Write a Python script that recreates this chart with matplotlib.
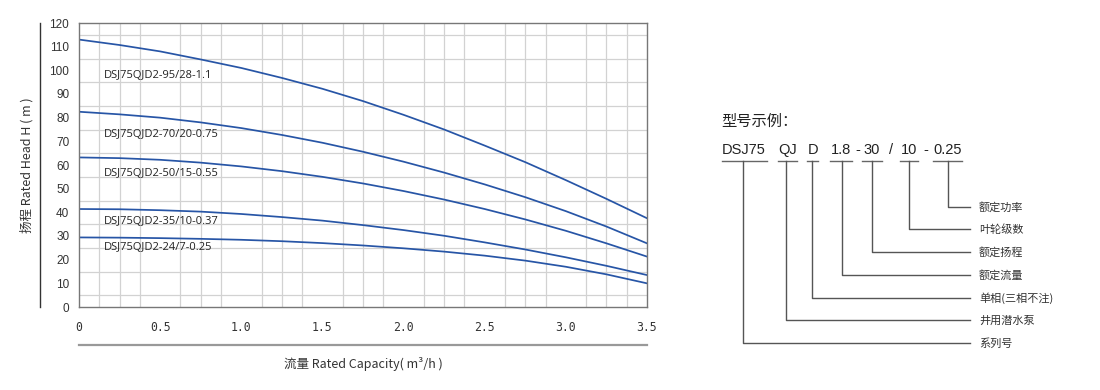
import matplotlib
matplotlib.use('Agg')
import matplotlib.pyplot as plt

# ---------------- data ----------------
flow = [0, 0.25, 0.5, 0.75, 1.0, 1.25, 1.5, 1.75, 2.0, 2.25, 2.5, 2.75, 3.0, 3.25, 3.5]
head_95_28 = [113.0, 110.7, 108.0, 104.6, 101.0, 96.8, 92.2, 87.0, 81.2, 75.0, 68.2, 61.2, 53.6, 45.7, 37.5]
head_70_20 = [82.5, 81.4, 80.0, 78.0, 75.6, 72.7, 69.4, 65.6, 61.4, 56.8, 51.8, 46.4, 40.5, 34.0, 26.9]
head_50_15 = [63.2, 62.9, 62.2, 61.0, 59.4, 57.4, 55.0, 52.2, 49.0, 45.4, 41.4, 37.0, 32.2, 26.9, 21.3]
head_35_10 = [41.4, 41.3, 40.9, 40.3, 39.3, 38.0, 36.5, 34.6, 32.5, 30.1, 27.3, 24.3, 21.0, 17.4, 13.5]
head_24_7 = [29.4, 29.3, 29.1, 28.8, 28.4, 27.8, 27.0, 26.0, 24.8, 23.4, 21.7, 19.6, 17.0, 13.8, 10.0]

model_names = ["DSJ75QJD2-95/28-1.1", "DSJ75QJD2-70/20-0.75", "DSJ75QJD2-50/15-0.55",
               "DSJ75QJD2-35/10-0.37", "DSJ75QJD2-24/7-0.25"]
model_heads = [head_95_28, head_70_20, head_50_15, head_35_10, head_24_7]

x_ticks = [0, 0.5, 1.0, 1.5, 2.0, 2.5, 3.0, 3.5]
x_tick_labels = ["0", "0.5", "1.0", "1.5", "2.0", "2.5", "3.0", "3.5"]
y_ticks = [0, 10, 20, 30, 40, 50, 60, 70, 80, 90, 100, 110, 120]

code_parts = ["DSJ75", "QJ", "D", "1.8", "-", "30", "/", "10", "-", "0.25"]
code_meanings = ["额定功率", "叶轮级数", "额定扬程", "额定流量", "单相(三相不注)", "井用潜水泵", "系列号"]

# ---------------- style / layout ----------------
CJK = ['Noto Sans CJK SC', 'DejaVu Sans']
BLUE = '#2755a6'
W, H = 1100, 390
fig = plt.figure(figsize=(11, 3.9), dpi=100)
fig.patch.set_facecolor('white')

L, R, T, B = 79, 647, 23, 307
ax = fig.add_axes([L / W, 1 - B / H, (R - L) / W, (B - T) / H])
ax.set_xlim(0, 3.5)
ax.set_ylim(0, 120)

# grid
ax.set_xticks([i * 0.125 for i in range(29)], minor=True)
ax.set_yticks([i * 5 for i in range(25)], minor=True)
ax.grid(which='minor', color='#d2d2d2', lw=0.9)
ax.set_axisbelow(True)

for y, name in zip(model_heads, model_names):
    ax.plot(flow, y, color=BLUE, lw=1.25, solid_joinstyle='round')

label_y = [98.0, 72.7, 56.2, 36.3, 25.1]
for name, ly in zip(model_names, label_y):
    ax.text(0.154, ly, name, fontsize=8.0, color='#222222', va='center', ha='left',
            family=['Open Sans', 'DejaVu Sans'])

ax.set_xticks(x_ticks)
ax.set_xticklabels(x_tick_labels, family='DejaVu Sans Mono', fontsize=8.3, color='#333333')
ax.set_yticks(y_ticks)
ax.set_yticklabels([str(v) for v in y_ticks], family='Liberation Sans', fontsize=8.5, color='#333333')
ax.tick_params(which='both', length=0)
ax.tick_params(axis='x', pad=10)
ax.tick_params(axis='y', pad=7)
for s in ax.spines.values():
    s.set_color('#777777')
    s.set_linewidth(1.0)

# overlay in pixel coordinates for decorations
ov = fig.add_axes([0, 0, 1, 1], facecolor='none')
ov.set_xlim(0, W)
ov.set_ylim(H, 0)
ov.axis('off')

ov.plot([40, 40], [23, 307], color='#333333', lw=1.0)
ov.plot([79, 647], [345, 345], color='#999999', lw=1.6)
ov.text(27, 165, "扬程 Rated Head H ( m )", rotation=90, ha='center', va='center',
        fontsize=9, color='#333333', family=CJK)
ov.text(363, 364, "流量 Rated Capacity( m³/h )", ha='center', va='center',
        fontsize=9, color='#333333', family=CJK)

# ---------------- model code diagram ----------------
ov.text(721, 121, "型号示例：", ha='left', va='center', fontsize=11, color='#222222', family=CJK)

part_x = [743.5, 787.5, 813.5, 841.5, 857.5, 871.5, 891, 909, 925.5, 948]
for p, px in zip(code_parts, part_x):
    ov.text(px, 150, p, ha='center', va='center', fontsize=10.5, color='#222222',
            family='Liberation Sans')

underline = [(722, 767), (778, 797), (807, 818), (830, 852), (862, 882), (900, 918), (933, 962)]
for a, b in underline:
    ov.plot([a, b], [161, 161], color='#666666', lw=1.0)

branch_x = [948.3, 909, 871.7, 841.7, 812.3, 786, 743.3]
branch_y = [207.3, 229.3, 252.3, 275, 298.3, 320.3, 343.3]
for bx, by, txt in zip(branch_x, branch_y, code_meanings):
    ov.plot([bx, bx, 970], [161, by, by], color='#555555', lw=1.0)
    ov.text(979, by, txt, ha='left', va='center', fontsize=8, color='#333333', family=CJK)

fig.savefig('out.png', dpi=100, facecolor='white')
